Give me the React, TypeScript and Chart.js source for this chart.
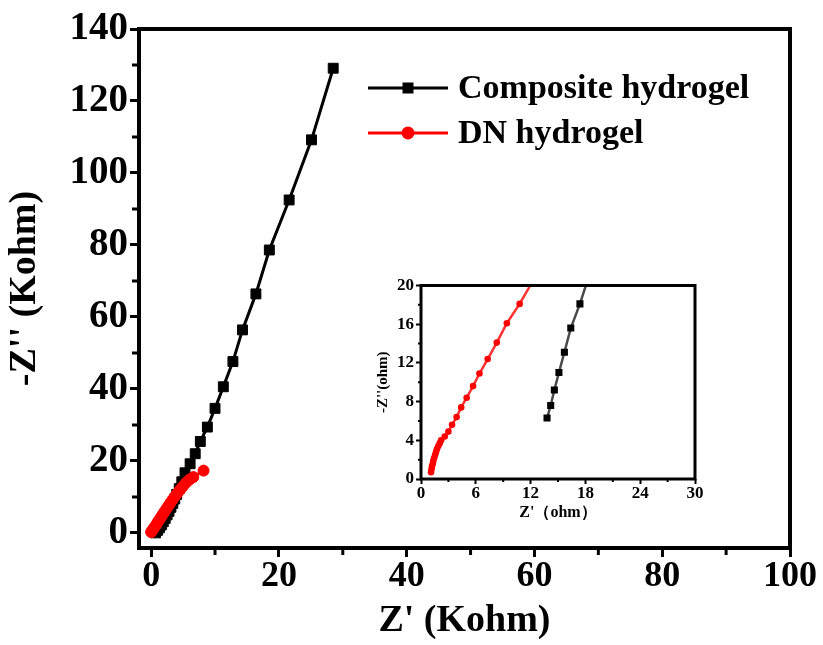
import React, { useEffect, useRef } from "react";
import { Chart, registerables } from "chart.js";

Chart.register(...registerables);

// ---------- data ----------
const seriesNames = ["Composite hydrogel", "DN hydrogel"];

// main plot (Kohm)
const compositeX = [0.7, 1.0, 1.3, 1.6, 1.9, 2.2, 2.5, 2.8, 3.1, 3.4, 3.7, 4.0, 4.4, 4.8, 5.3, 6.1, 6.9, 7.7, 8.8, 10.0, 11.3, 12.8, 14.3, 16.4, 18.5, 21.6, 25.1, 28.5];
const compositeY = [0.0, 0.7, 1.4, 2.2, 3.1, 4.0, 5.0, 6.0, 7.1, 8.2, 9.4, 10.7, 12.3, 14.2, 16.7, 19.2, 22.0, 25.4, 29.4, 34.6, 40.6, 47.6, 56.4, 66.4, 78.6, 92.5, 109.2, 129.1];
const dnX = [0.0, 0.15, 0.3, 0.5, 0.7, 0.9, 1.1, 1.35, 1.6, 1.85, 2.1, 2.4, 2.7, 3.0, 3.35, 3.7, 4.1, 4.5, 4.95, 5.45, 6.0, 6.6, 8.2];
const dnY = [0.2, 0.6, 1.0, 1.5, 2.0, 2.6, 3.2, 3.8, 4.5, 5.2, 5.9, 6.7, 7.5, 8.3, 9.2, 10.1, 11.0, 11.9, 12.9, 13.9, 14.8, 15.5, 17.3];

const mainXTicks = [0, 20, 40, 60, 80, 100];
const mainXMinor = [10, 30, 50, 70, 90];
const mainYTicks = [0, 20, 40, 60, 80, 100, 120, 140];
const mainYMinor = [10, 30, 50, 70, 90, 110, 130];

// inset (ohm)
const insetCompositeX = [13.8, 14.2, 14.6, 15.1, 15.7, 16.4, 17.4, 18.6];
const insetCompositeY = [6.3, 7.6, 9.2, 11.0, 13.1, 15.6, 18.1, 21.6];
const insetDnX = [1.1, 1.15, 1.2, 1.3, 1.35, 1.45, 1.55, 1.65, 1.75, 1.9, 2.05, 2.2, 2.6, 3.0, 3.4, 3.9, 4.4, 5.0, 5.7, 6.4, 7.3, 8.3, 9.4, 10.8, 12.2];
const insetDnY = [0.7, 1.0, 1.3, 1.6, 1.9, 2.2, 2.5, 2.8, 3.1, 3.4, 3.7, 4.0, 4.4, 4.9, 5.6, 6.4, 7.4, 8.4, 9.6, 10.9, 12.4, 14.1, 16.1, 18.1, 20.4];

const insetXTicks = [0, 6, 12, 18, 24, 30];
const insetXMinor = [3, 9, 15, 21, 27];
const insetYTicks = [0, 4, 8, 12, 16, 20];
const insetYMinor = [2, 6, 10, 14, 18];

// ---------- helpers ----------
const FONT = "'Liberation Serif', 'Times New Roman', 'Noto Serif', serif";

const pts = (xs: number[], ys: number[]) => xs.map((x, i) => ({ x, y: ys[i] }));

const framePlugin = {
  id: "frame",
  afterDraw(chart: any, _args: any, opts: any) {
    const { ctx, chartArea: a, scales } = chart;
    ctx.save();
    ctx.strokeStyle = "#000";
    ctx.lineWidth = opts.width;
    ctx.strokeRect(a.left, a.top, a.right - a.left, a.bottom - a.top);
    ctx.lineWidth = opts.tickWidth;
    ctx.beginPath();
    for (const v of opts.xMinor) {
      const px = scales.x.getPixelForValue(v);
      ctx.moveTo(px, a.bottom);
      ctx.lineTo(px, a.bottom + opts.minorLen);
    }
    for (const v of opts.yMinor) {
      const py = scales.y.getPixelForValue(v);
      ctx.moveTo(a.left, py);
      ctx.lineTo(a.left - opts.minorLen, py);
    }
    ctx.stroke();
    ctx.restore();
  },
};

const legendPlugin = {
  id: "seriesLegend",
  afterDraw(chart: any, _args: any, opts: any) {
    if (!opts || !opts.display) return;
    const ctx = chart.ctx;
    ctx.save();
    chart.data.datasets.forEach((ds: any, i: number) => {
      const y = opts.y0 + i * opts.rowGap;
      ctx.strokeStyle = ds.borderColor;
      ctx.lineWidth = opts.lineWidth;
      ctx.beginPath();
      ctx.moveTo(opts.x0, y);
      ctx.lineTo(opts.x1, y);
      ctx.stroke();
      const cx = (opts.x0 + opts.x1) / 2;
      ctx.fillStyle = ds.pointBackgroundColor;
      if (ds.pointStyle === "rect") {
        const s = opts.rectSize;
        ctx.fillRect(cx - s / 2, y - s / 2, s, s);
      } else {
        ctx.beginPath();
        ctx.arc(cx, y, opts.circleR, 0, Math.PI * 2);
        ctx.fill();
      }
      ctx.fillStyle = "#000";
      ctx.font = `bold ${opts.fontSize}px ${FONT}`;
      ctx.textBaseline = "middle";
      ctx.textAlign = "left";
      ctx.fillText(ds.label, opts.textX, y + 1);
    });
    ctx.restore();
  },
};

function mainConfig(): any {
  const xTickFont = { family: FONT, size: 36, weight: "bold", lineHeight: 1 };
  const yTickFont = { family: FONT, size: 39, weight: "bold", lineHeight: 1 };
  const titleFont = { family: FONT, size: 38, weight: "bold", lineHeight: 1 };
  return {
    type: "scatter",
    data: {
      datasets: [
        {
          label: seriesNames[0],
          data: pts(compositeX, compositeY),
          showLine: true,
          borderColor: "#000000",
          backgroundColor: "#000000",
          pointBackgroundColor: "#000000",
          pointBorderColor: "#000000",
          pointStyle: "rect",
          pointRadius: 7,
          pointBorderWidth: 1,
          borderWidth: 3,
          order: 1,
        },
        {
          label: seriesNames[1],
          data: pts(dnX, dnY),
          showLine: true,
          borderColor: "#ff0000",
          backgroundColor: "#ff0000",
          pointBackgroundColor: "#ff0000",
          pointBorderColor: "#ff0000",
          pointStyle: "circle",
          pointRadius: 5.5,
          pointBorderWidth: 1,
          borderWidth: 3,
          order: 0,
        },
      ],
    },
    options: {
      responsive: false,
      animation: false,
      events: [],
      layout: { padding: { left: 0, top: 29, right: 33, bottom: 0 } },
      plugins: {
        legend: { display: false },
        tooltip: { enabled: false },
        frame: { width: 4, tickWidth: 3, minorLen: 7, xMinor: mainXMinor, yMinor: mainYMinor },
        seriesLegend: {
          display: true,
          x0: 368,
          x1: 448,
          y0: 88,
          rowGap: 45,
          lineWidth: 3,
          rectSize: 11,
          circleR: 6.5,
          textX: 458,
          fontSize: 34,
        },
      },
      scales: {
        x: {
          type: "linear",
          min: -1.9,
          max: 100,
          afterBuildTicks: (s: any) => {
            s.ticks = mainXTicks.map((v) => ({ value: v }));
          },
          afterFit: (s: any) => {
            s.height = 97;
          },
          grid: { display: true, drawOnChartArea: false, drawTicks: true, tickLength: 9, tickWidth: 3, tickColor: "#000" },
          border: { display: false },
          ticks: { color: "#000", font: xTickFont, padding: 2, maxRotation: 0, autoSkip: false, callback: (v: any) => String(v) },
          title: { display: true, text: "Z' (Kohm)", color: "#000", font: titleFont, padding: { top: 0, bottom: 5 } },
        },
        y: {
          type: "linear",
          min: -4.2,
          max: 140,
          afterBuildTicks: (s: any) => {
            s.ticks = mainYTicks.map((v) => ({ value: v }));
          },
          afterFit: (s: any) => {
            s.width = 139;
          },
          grid: { display: true, drawOnChartArea: false, drawTicks: true, tickLength: 9, tickWidth: 3, tickColor: "#000" },
          border: { display: false },
          ticks: { color: "#000", font: yTickFont, padding: 2, autoSkip: false, callback: (v: any) => String(v) },
          title: { display: true, text: "-Z'' (Kohm)", color: "#000", font: titleFont, padding: { top: 6, bottom: 0 } },
        },
      },
    },
    plugins: [framePlugin, legendPlugin],
  };
}

function insetConfig(): any {
  const tickFont = { family: FONT, size: 17, weight: "bold", lineHeight: 1 };
  const titleFont = { family: FONT, size: 16, weight: "bold", lineHeight: 1 };
  return {
    type: "scatter",
    data: {
      datasets: [
        {
          label: seriesNames[0],
          data: pts(insetCompositeX, insetCompositeY),
          showLine: true,
          borderColor: "#4a4a4a",
          backgroundColor: "#000000",
          pointBackgroundColor: "#000000",
          pointBorderColor: "#000000",
          pointStyle: "rect",
          pointRadius: 5,
          pointBorderWidth: 0,
          borderWidth: 2.5,
          clip: 0,
        },
        {
          label: seriesNames[1],
          data: pts(insetDnX, insetDnY),
          showLine: true,
          borderColor: "#ff3333",
          backgroundColor: "#ff0000",
          pointBackgroundColor: "#ff0000",
          pointBorderColor: "#ff0000",
          pointStyle: "circle",
          pointRadius: 3.3,
          pointBorderWidth: 0,
          borderWidth: 2.5,
          clip: 0,
        },
      ],
    },
    options: {
      responsive: false,
      animation: false,
      events: [],
      layout: { padding: { left: 0, top: 10, right: 10, bottom: 0 } },
      plugins: {
        legend: { display: false },
        tooltip: { enabled: false },
        frame: { width: 3, tickWidth: 2, minorLen: 3, xMinor: insetXMinor, yMinor: insetYMinor },
        seriesLegend: { display: false },
      },
      scales: {
        x: {
          type: "linear",
          min: 0,
          max: 30,
          afterBuildTicks: (s: any) => {
            s.ticks = insetXTicks.map((v) => ({ value: v }));
          },
          afterFit: (s: any) => {
            s.height = 46;
          },
          grid: { display: true, drawOnChartArea: false, drawTicks: true, tickLength: 5, tickWidth: 2, tickColor: "#000" },
          border: { display: false },
          ticks: { color: "#000", font: tickFont, padding: 1, maxRotation: 0, autoSkip: false, callback: (v: any) => String(v) },
          title: { display: true, text: "Z'（ohm）", color: "#000", font: titleFont, padding: { top: 0, bottom: 4 } },
        },
        y: {
          type: "linear",
          min: 0,
          max: 20,
          afterBuildTicks: (s: any) => {
            s.ticks = insetYTicks.map((v) => ({ value: v }));
          },
          afterFit: (s: any) => {
            s.width = 61;
          },
          grid: { display: true, drawOnChartArea: false, drawTicks: true, tickLength: 5, tickWidth: 2, tickColor: "#000" },
          border: { display: false },
          ticks: { color: "#000", font: tickFont, padding: 2, autoSkip: false, callback: (v: any) => String(v) },
          title: { display: true, text: "-Z''(ohm)", color: "#000", font: { ...titleFont, size: 15 }, padding: { top: 16, bottom: 0 } },
        },
      },
    },
    plugins: [framePlugin, legendPlugin],
  };
}

export default function App() {
  const mainRef = useRef<HTMLCanvasElement>(null);
  const insetRef = useRef<HTMLCanvasElement>(null);

  useEffect(() => {
    const main = new Chart(mainRef.current as HTMLCanvasElement, mainConfig());
    const inset = new Chart(insetRef.current as HTMLCanvasElement, insetConfig());
    return () => {
      main.destroy();
      inset.destroy();
    };
  }, []);

  return (
    <div style={{ position: "fixed", left: 0, top: 0, width: 823, height: 645, background: "#fff" }}>
      <canvas ref={mainRef} width={823} height={645} style={{ position: "absolute", left: 0, top: 0, width: 823, height: 645 }} />
      <canvas ref={insetRef} width={345} height={250} style={{ position: "absolute", left: 360, top: 275, width: 345, height: 250 }} />
    </div>
  );
}
